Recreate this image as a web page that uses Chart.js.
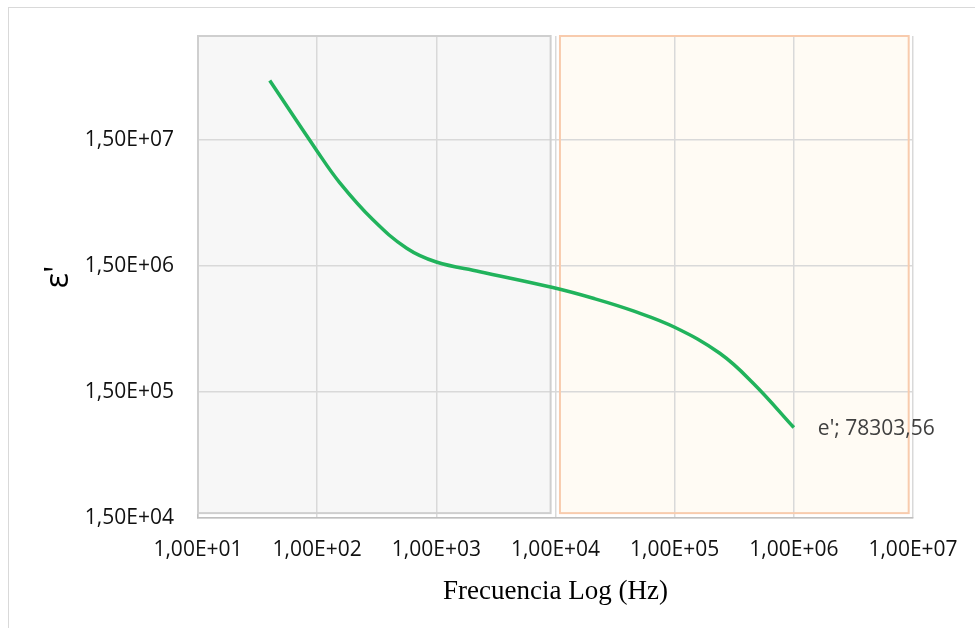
<!DOCTYPE html>
<html>
<head>
<meta charset="utf-8">
<script src="https://cdn.jsdelivr.net/npm/chart.js@4/dist/chart.umd.min.js"></script>
<style>
  html, body { margin: 0; padding: 0; background: #ffffff; overflow: hidden; }
  #frame { position: absolute; left: 8px; top: 7px; width: 1100px; height: 700px;
           border-left: 1px solid #D9D9D9; border-top: 1px solid #D9D9D9; box-sizing: border-box; }
  #c { position: absolute; left: 0; top: 0; }
</style>
</head>
<body>
<div id="frame"></div>
<canvas id="c" width="975" height="628"></canvas>
<script>
// Real permittivity vs. frequency
const frequencies  = [40, 100, 155, 294, 564, 1000, 2320, 9500, 20700, 44900, 100000, 239000, 456000, 1000000];
const permittivity = [4.43e7, 1.22e7, 6.84e6, 3.48e6, 2.07e6, 1.61e6, 1.35e6, 1.01e6, 8.30e5, 6.59e5, 4.89e5, 3.04e5, 1.76e5, 78303.56];

const xTickValues = [1e1, 1e2, 1e3, 1e4, 1e5, 1e6, 1e7];
const yTickValues = [1.5e4, 1.5e5, 1.5e6, 1.5e7];

const seriesName = "e'";
const xTitle = 'Frecuencia Log (Hz)';
const yTitle = "ε'";

// Shaded frequency bands [fromHz, toHz] and their vertical extent
const lowBand  = [10, 9100];
const highBand = [10900, 9.2e6];
const bandSpan = [1.64e4, 1.0e8];

function sci(v) {
  const parts = v.toExponential(2).split('e');
  const n = parseInt(parts[1], 10);
  return parts[0].replace('.', ',') + 'E' + (n < 0 ? '-' : '+') + String(Math.abs(n)).padStart(2, '0');
}

const points = frequencies.map((f, i) => ({ x: f, y: permittivity[i] }));

function bandRect(chart, band) {
  const xs = chart.scales.x, ys = chart.scales.y;
  const x0 = xs.getPixelForValue(band[0]), x1 = xs.getPixelForValue(band[1]);
  const y0 = ys.getPixelForValue(bandSpan[1]), y1 = ys.getPixelForValue(bandSpan[0]);
  return [x0, y0, x1 - x0, y1 - y0];
}

const bands = [
  { range: lowBand,  fill: '#F7F7F7', stroke: '#CFCFCF' },
  { range: highBand, fill: '#FFFBF4', stroke: '#F8CBAD' }
];

const bandsPlugin = {
  id: 'bands',
  beforeDraw(chart) {
    const ctx = chart.ctx;
    ctx.save();
    bands.forEach(b => {
      const r = bandRect(chart, b.range);
      ctx.fillStyle = b.fill;
      ctx.fillRect(r[0], r[1], r[2], r[3]);
    });
    ctx.restore();
  },
  beforeDatasetsDraw(chart) {
    const ctx = chart.ctx;
    ctx.save();
    ctx.lineWidth = 2;
    bands.forEach(b => {
      const r = bandRect(chart, b.range);
      ctx.strokeStyle = b.stroke;
      ctx.strokeRect(r[0], r[1], r[2], r[3]);
    });
    ctx.restore();
  },
  afterDatasetsDraw(chart) {
    // value label at the last point of the series
    const last = points[points.length - 1];
    const px = chart.scales.x.getPixelForValue(last.x);
    const py = chart.scales.y.getPixelForValue(last.y);
    const ctx = chart.ctx;
    ctx.save();
    ctx.font = '21px "Open Sans"';
    ctx.fillStyle = '#404040';
    ctx.textAlign = 'left';
    ctx.textBaseline = 'middle';
    ctx.fillText(seriesName + '; ' + last.y.toFixed(2).replace('.', ','), px + 24, py + 1);
    ctx.restore();
  }
};

new Chart(document.getElementById('c'), {
  type: 'scatter',
  data: {
    datasets: [{
      label: seriesName,
      data: points,
      showLine: true,
      borderColor: '#21B35C',
      borderWidth: 3.5,
      pointRadius: 0,
      tension: 0.4,
      fill: false
    }]
  },
  options: {
    responsive: false,
    animation: false,
    devicePixelRatio: 1,
    layout: { padding: { top: 36, right: 62, left: 0, bottom: 0 } },
    plugins: { legend: { display: false }, tooltip: { enabled: false } },
    scales: {
      x: {
        type: 'logarithmic',
        min: 10,
        max: 1e7,
        afterBuildTicks: s => { s.ticks = xTickValues.map(v => ({ value: v })); },
        afterFit: s => { s.height = 110; s.paddingLeft = 0; s.paddingRight = 0; },
        grid: { color: '#D9D9D9', lineWidth: 1.5, drawTicks: false },
        border: { color: '#BFBFBF', width: 1.5 },
        ticks: {
          padding: 19,
          autoSkip: false,
          maxRotation: 0,
          color: '#111111',
          font: { family: 'Open Sans', size: 21 },
          callback: v => sci(v)
        },
        title: {
          display: true,
          text: xTitle,
          color: '#000000',
          font: { family: 'Liberation Serif', size: 27 },
          padding: { top: 0, bottom: 20 }
        }
      },
      y: {
        type: 'logarithmic',
        min: 1.5e4,
        max: 1.0e8,
        afterBuildTicks: s => { s.ticks = yTickValues.map(v => ({ value: v })); },
        afterFit: s => { s.width = 198; s.paddingTop = 0; s.paddingBottom = 0; },
        grid: { color: '#D9D9D9', lineWidth: 1.5, drawTicks: false },
        border: { color: '#BFBFBF', width: 1.5 },
        ticks: {
          padding: 24,
          color: '#111111',
          font: { family: 'Open Sans', size: 21 },
          callback: v => sci(v)
        },
        title: {
          display: true,
          text: yTitle,
          color: '#000000',
          font: { family: 'Open Sans', size: 32 },
          padding: { top: 40, bottom: 0 }
        }
      }
    }
  },
  plugins: [bandsPlugin]
});
</script>
</body>
</html>
